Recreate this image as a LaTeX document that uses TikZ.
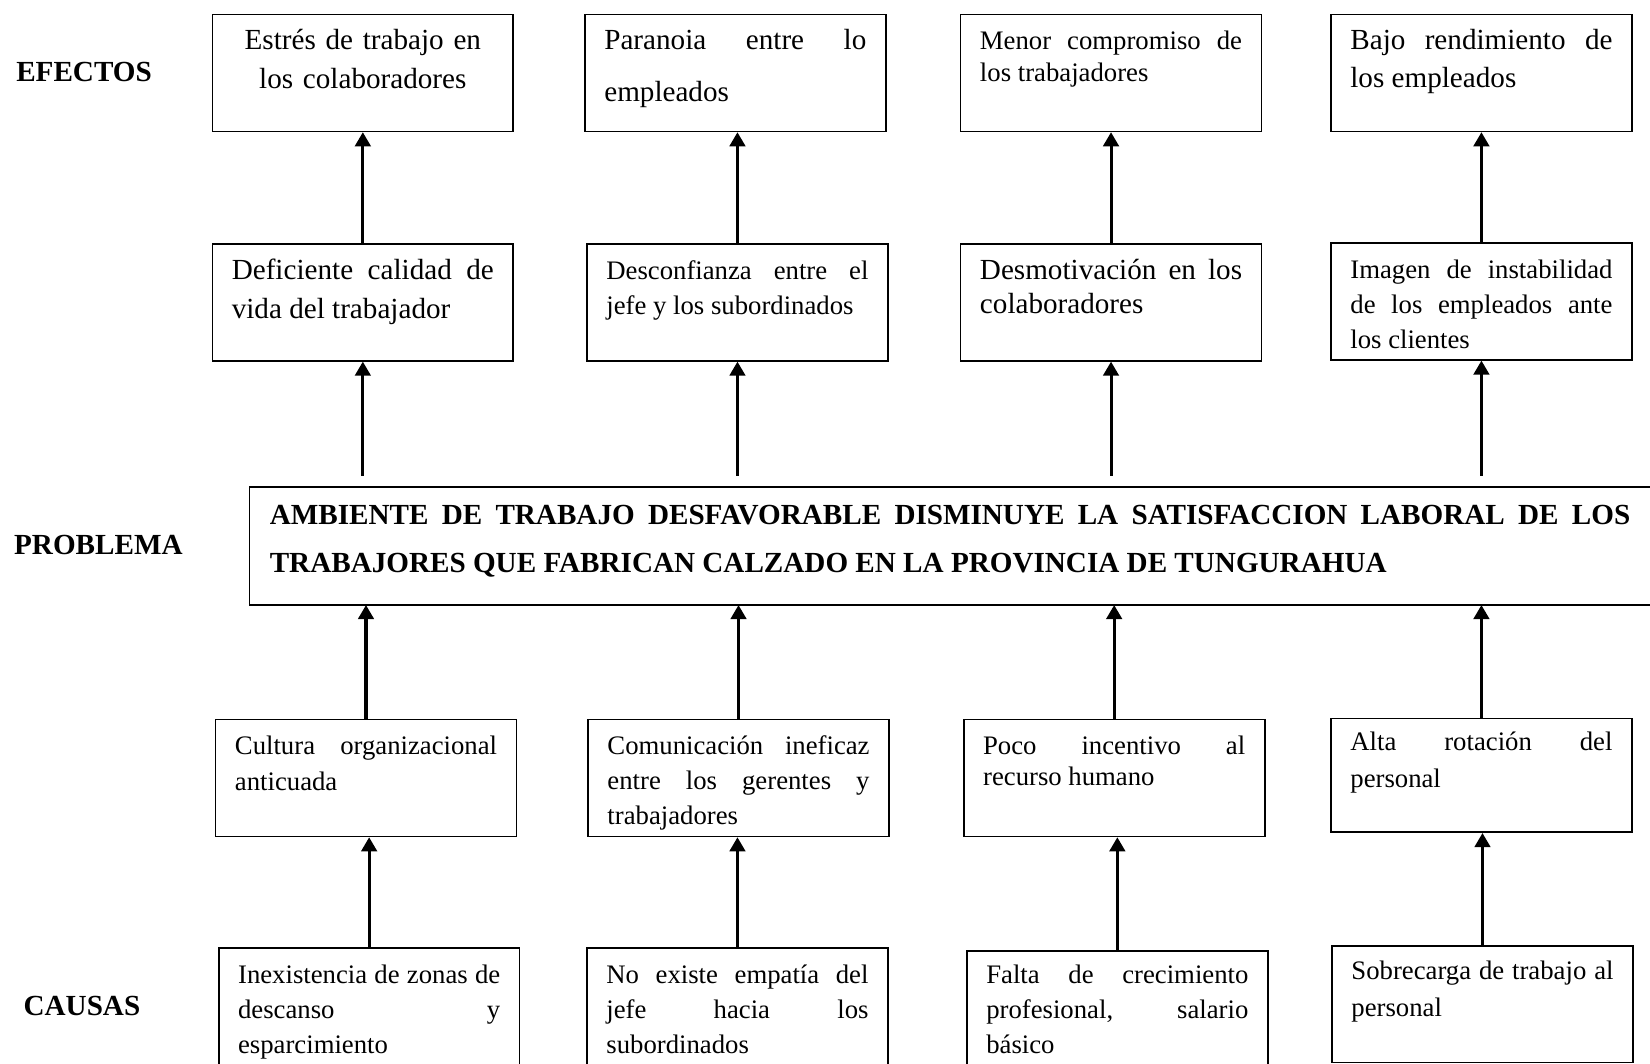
\documentclass[tikz,border=0pt]{standalone}
\usepackage{fontspec}
\setmainfont{Liberation Serif}
\usetikzlibrary{arrows.meta}
\tolerance=10000
\hyphenpenalty=10000

\newcommand{\bigtxt}{\fontsize{12}{16}\selectfont}
\newcommand{\smalltxt}{\fontsize{11}{14.5}\selectfont}

\tikzset{
  cell/.style={draw, line width=0.7pt, anchor=north west, inner xsep=8pt, inner ysep=0pt,
    text width=107.9pt, text height=14.5pt, text depth=33.6pt, align=justify, font=\smalltxt},
  tall/.style={text depth=42pt},
  head/.style={anchor=west, inner sep=0pt, font=\bfseries\bigtxt},
  up/.style={-{Triangle[width=6.4pt,length=5.8pt]}, line width=1.25pt},
}

\begin{document}
\begin{tikzpicture}[x=0.4332pt, y=-0.4332pt]
\useasboundingbox (0,0) rectangle (1568,1011);

% row labels
\node[head] (efectos) at (15,68) {EFECTOS};
\node[head] (problema) at (13,518) {PROBLEMA};
\node[head] (causas) at (22,956) {CAUSAS};

% efectos
\node[cell, align=center, font=\fontsize{12}{16}\selectfont] (E1) at (201,13) {Estrés de trabajo en\\los colaboradores};
\node[cell, font=\fontsize{12}{21.2}\selectfont] (E2) at (555,13) {Paranoia entre lo\linebreak empleados};
\node[cell, font=\fontsize{11}{13}\selectfont] (E3) at (912,13) {Menor compromiso de\linebreak los trabajadores};
\node[cell, font=\fontsize{12}{15.6}\selectfont] (E4) at (1264,13) {Bajo rendimiento de\linebreak los empleados};

\node[cell, font=\fontsize{12}{16}\selectfont] (M1) at (201,231) {Deficiente calidad de\linebreak vida del trabajador};
\node[cell, font=\fontsize{11}{14.7}\selectfont] (M2) at (557,231) {Desconfianza entre el\linebreak jefe y los subordinados};
\node[cell, font=\fontsize{12}{14.3}\selectfont] (M3) at (912,231) {Desmotivación en los\linebreak colaboradores};
\node[cell, font=\fontsize{11}{14.5}\selectfont] (M4) at (1264,230) {Imagen de instabilidad\linebreak de los empleados ante\linebreak los clientes};

% problema
\node[anchor=north west, inner xsep=8.2pt, inner ysep=0pt, text width=560.1pt, text height=15.2pt, text depth=32.9pt,
  align=justify, font=\bfseries\fontsize{12}{19.9}\selectfont] (P) at (237,463)
  {AMBIENTE DE TRABAJO DESFAVORABLE DISMINUYE LA SATISFACCION LABORAL DE LOS\linebreak TRABAJORES QUE FABRICAN CALZADO EN LA PROVINCIA DE TUNGURAHUA};
\draw[line width=0.7pt] (P.south west) rectangle ([xshift=20pt]P.north east);

% causas
\node[cell, font=\fontsize{11}{14.7}\selectfont] (C1) at (204,683) {Cultura organizacional\linebreak anticuada};
\node[cell, font=\fontsize{11}{14.3}\selectfont] (C2) at (558,683) {Comunicación ineficaz\linebreak entre los gerentes y\linebreak trabajadores};
\node[cell, font=\fontsize{11}{12.6}\selectfont] (C3) at (915,683) {Poco incentivo al\linebreak recurso humano};
\node[cell, font=\fontsize{11}{15.2}\selectfont, text height=13.2pt] (C4) at (1264,682) {Alta rotación del\linebreak personal};

\node[cell, tall] (D1) at (207,900) {Inexistencia de zonas de\linebreak descanso y\linebreak esparcimiento};
\node[cell, tall] (D2) at (557,900) {No existe empatía del\linebreak jefe hacia los\linebreak subordinados};
\node[cell, tall, text height=13.2pt] (D3) at (918,903) {Falta de crecimiento\linebreak profesional, salario\linebreak básico};
\node[cell, font=\fontsize{11}{15.2}\selectfont, text height=14pt, text depth=34pt] (D4) at (1265,898) {Sobrecarga de trabajo al\linebreak personal};

% flechas
\draw[up] (M1.north) -- (M1.north |- E1.south);
\draw[up] (M2.north) -- (M2.north |- E2.south);
\draw[up] (M3.north) -- (M3.north |- E3.south);
\draw[up] (M4.north) -- (M4.north |- E4.south);

\draw[up, shorten <=4.8pt] (P.north -| M1.south) -- (M1.south);
\draw[up, shorten <=4.8pt] (P.north -| M2.south) -- (M2.south);
\draw[up, shorten <=4.8pt] (P.north -| M3.south) -- (M3.south);
\draw[up, shorten <=4.8pt] (P.north -| M4.south) -- (M4.south);

\draw[up] (C1.north) -- (C1.north |- P.south);
\draw[up] (C2.north) -- (C2.north |- P.south);
\draw[up] (C3.north) -- (C3.north |- P.south);
\draw[up] (C4.north) -- (C4.north |- P.south);

\draw[up] (D1.north) -- (D1.north |- C1.south);
\draw[up] (D2.north) -- (D2.north |- C2.south);
\draw[up] (D3.north) -- (D3.north |- C3.south);
\draw[up] (D4.north) -- (D4.north |- C4.south);
\end{tikzpicture}
\end{document}
